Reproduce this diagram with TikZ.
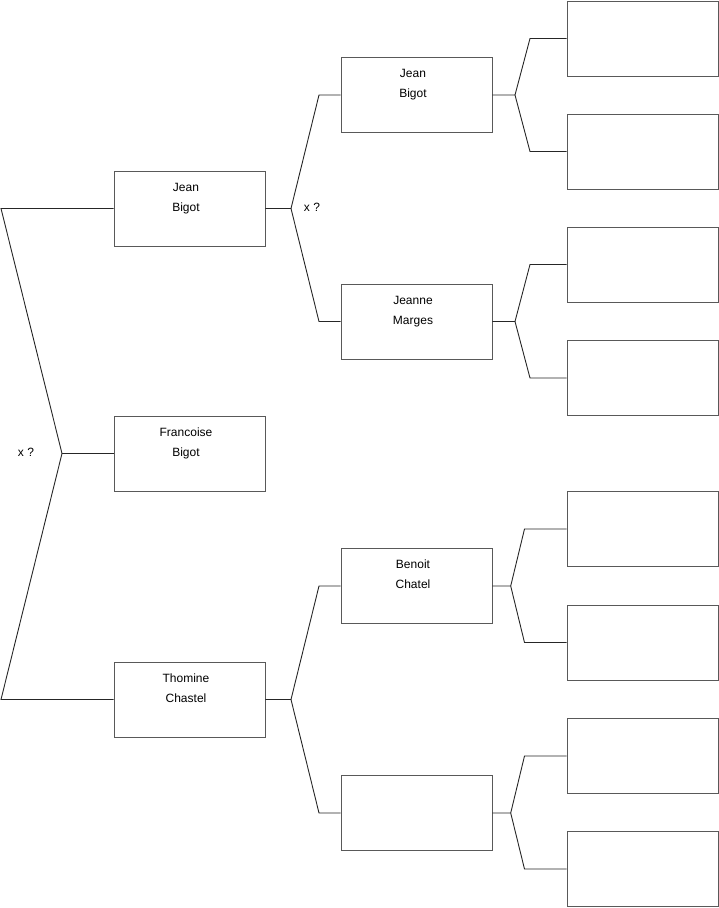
\documentclass[tikz,border=0pt]{standalone}
\usepackage{fontspec}
\setmainfont{Liberation Sans}
\begin{document}
\begin{tikzpicture}[x=1pt,y=-1pt,
  box/.style={draw=black!65, line width=0.9pt, minimum width=151pt, minimum height=75pt, inner sep=0pt},
  lbl/.style={anchor=base, inner sep=0pt, font=\fontsize{12}{14}\selectfont},
  conn/.style={draw=black!85, line width=0.9pt},
  xmark/.style={inner sep=0pt, font=\fontsize{12}{14}\selectfont}]
\useasboundingbox (0,0) rectangle (719,908);
% column 1
\node[box] (b1) at (189.5,208.5) {};
\node[box] (b2) at (189.5,453.5) {};
\node[box] (b3) at (189.5,699.5) {};
% column 2
\node[box] (c1) at (416.5,95) {};
\node[box] (c2) at (416.5,321.5) {};
\node[box] (c3) at (416.5,586) {};
\node[box] (c4) at (416.5,813) {};
% column 3
\node[box] (d1) at (642.5,38.5) {};
\node[box] (d2) at (642.5,151.5) {};
\node[box] (d3) at (642.5,264.5) {};
\node[box] (d4) at (642.5,378) {};
\node[box] (d5) at (642.5,529) {};
\node[box] (d6) at (642.5,642.5) {};
\node[box] (d7) at (642.5,756) {};
\node[box] (d8) at (642.5,869) {};
% labels
\node[lbl] (t1a) at ([xshift=-3.5pt,yshift=-20.5pt]b1.north) {Jean};
\node[lbl] (t1b) at ([xshift=-3.5pt,yshift=-40.5pt]b1.north) {Bigot};
\node[lbl] (t2a) at ([xshift=-3.5pt,yshift=-20.5pt]b2.north) {Francoise};
\node[lbl] (t2b) at ([xshift=-3.5pt,yshift=-40.5pt]b2.north) {Bigot};
\node[lbl] (t3a) at ([xshift=-3.5pt,yshift=-20.5pt]b3.north) {Thomine};
\node[lbl] (t3b) at ([xshift=-3.5pt,yshift=-40.5pt]b3.north) {Chastel};
\node[lbl] (u1a) at ([xshift=-3.5pt,yshift=-20.5pt]c1.north) {Jean};
\node[lbl] (u1b) at ([xshift=-3.5pt,yshift=-40.5pt]c1.north) {Bigot};
\node[lbl] (u2a) at ([xshift=-3.5pt,yshift=-20.5pt]c2.north) {Jeanne};
\node[lbl] (u2b) at ([xshift=-3.5pt,yshift=-40.5pt]c2.north) {Marges};
\node[lbl] (u3a) at ([xshift=-3.5pt,yshift=-20.5pt]c3.north) {Benoit};
\node[lbl] (u3b) at ([xshift=-3.5pt,yshift=-40.5pt]c3.north) {Chatel};
% fork coordinates
\coordinate (L1) at (1,208.5);
\coordinate (L2) at (62,453.5);
\coordinate (L3) at (1,699.5);
\coordinate (F1) at (291,208.5);
\coordinate (F1u) at (319,95);
\coordinate (F1d) at (319,321.5);
\coordinate (F3) at (291,699.5);
\coordinate (F3u) at (319,586);
\coordinate (F3d) at (319,813);
\coordinate (G1) at (515,95);
\coordinate (G1u) at (530,38.5);
\coordinate (G1d) at (530,151.5);
\coordinate (G2) at (515,321.5);
\coordinate (G2u) at (530,264.5);
\coordinate (G2d) at (530,378);
\coordinate (G3) at (510.7,586);
\coordinate (G3u) at (524.5,529);
\coordinate (G3d) at (524.5,642.5);
\coordinate (G4) at (510.7,813);
\coordinate (G4u) at (524.5,756);
\coordinate (G4d) at (524.5,869);
% connectors
\draw[conn] (b1.west) -- (L1) -- (L2) -- (L3) -- (b3.west);
\draw[conn] (L2) -- (b2.west);
\draw[conn] (b1.east) -- (F1) -- (F1u) -- (c1.west);
\draw[conn] (F1) -- (F1d) -- (c2.west);
\draw[conn] (b3.east) -- (F3) -- (F3u) -- (c3.west);
\draw[conn] (F3) -- (F3d) -- (c4.west);
\draw[conn] (c1.east) -- (G1) -- (G1u) -- (d1.west);
\draw[conn] (G1) -- (G1d) -- (d2.west);
\draw[conn] (c2.east) -- (G2) -- (G2u) -- (d3.west);
\draw[conn] (G2) -- (G2d) -- (d4.west);
\draw[conn] (c3.east) -- (G3) -- (G3u) -- (d5.west);
\draw[conn] (G3) -- (G3d) -- (d6.west);
\draw[conn] (c4.east) -- (G4) -- (G4u) -- (d7.west);
\draw[conn] (G4) -- (G4d) -- (d8.west);
% marks
\node[xmark] (m1) at (26,452) {x ?};
\node[xmark] (m2) at (312,207) {x ?};
\end{tikzpicture}
\end{document}
